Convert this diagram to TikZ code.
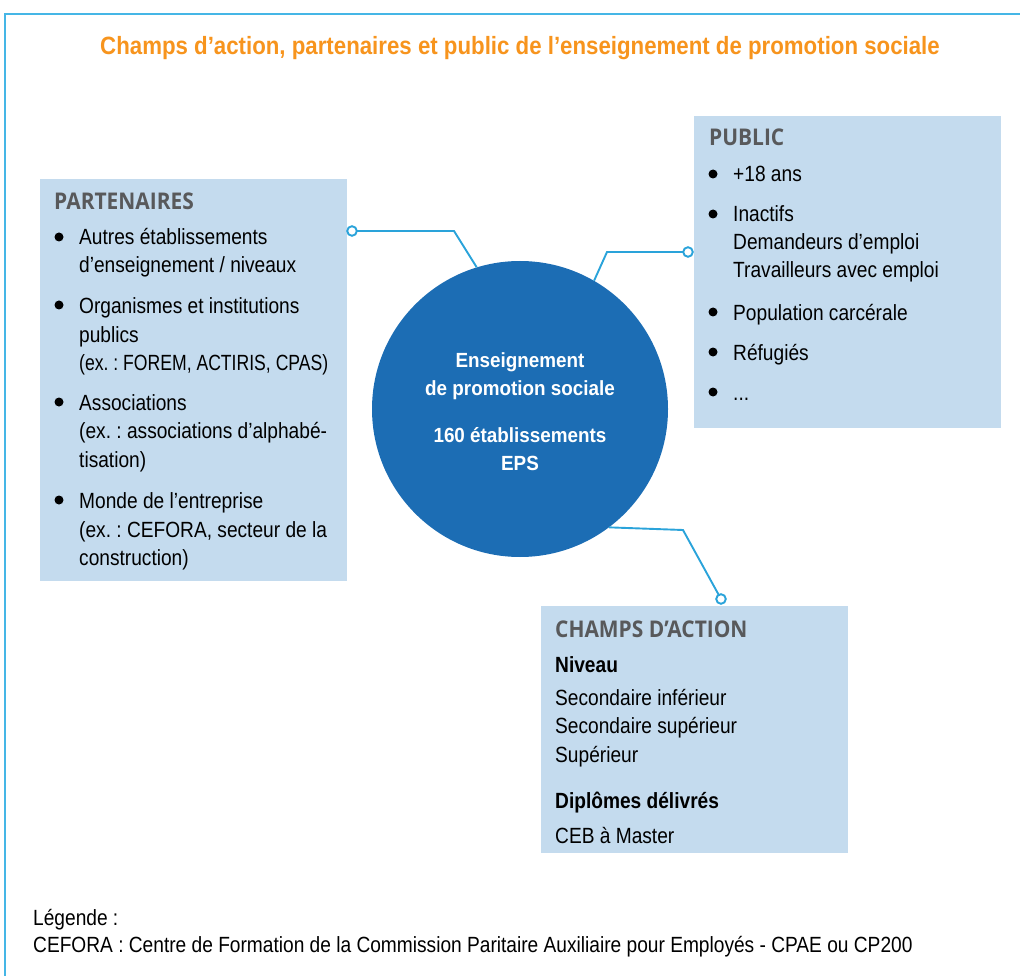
\documentclass[tikz,border=0pt]{standalone}
\usepackage{fontspec}
\setmainfont[FakeStretch=0.87]{Liberation Sans}
\newfontfamily\narrowfont[FakeStretch=0.80]{Liberation Sans}
\newfontfamily\headfont[FakeStretch=0.91]{Open Sans}
\newfontfamily\titlefont[FakeStretch=0.89]{Liberation Sans}
\newfontfamily\epsfont[FakeStretch=0.92]{Liberation Sans}
\usetikzlibrary{positioning}

\definecolor{framecol}{HTML}{45B6E6}
\definecolor{titlecol}{HTML}{F7941D}
\definecolor{boxcol}{HTML}{C4DBEE}
\definecolor{headcol}{HTML}{58595B}
\definecolor{epscol}{HTML}{1C6DB4}
\definecolor{linkcol}{HTML}{2AA3DA}

\frenchspacing
\begin{document}
\begin{tikzpicture}[x=1pt,y=-1pt,
  box/.style={fill=boxcol, draw=none, anchor=north west, inner sep=0pt},
  head/.style={anchor=base west, inner sep=0pt, text=headcol, font=\headfont\bfseries\fontsize{23}{28}\selectfont},
  txt/.style={anchor=base west, inner sep=0pt, font=\fontsize{22}{26}\selectfont},
  bul/.style={circle, fill=black, inner sep=0pt, minimum size=9pt},
  ctr/.style={anchor=base, inner sep=0pt, text=white, font=\epsfont\bfseries\fontsize{20.5}{24}\selectfont},
  link/.style={draw=linkcol, line width=1.9pt},
  dot/.style={draw=linkcol, fill=white, line width=1.9pt}]
\useasboundingbox (0,0) rectangle (1020,976);
\draw[framecol, line width=1.5pt] (5,976) -- (5,14) -- (1020,14);
\node[anchor=base, inner sep=0pt, text=titlecol, font=\titlefont\bfseries\fontsize{25}{30}\selectfont] (title) at (520,55)
  {Champs d’action, partenaires et public de l’enseignement de promotion sociale};

% boxes
\node[box, minimum width=307pt, minimum height=402pt] (part) at (40,179) {};
\node[box, minimum width=307pt, minimum height=312pt] (pub) at (694,116) {};
\node[box, minimum width=307pt, minimum height=247pt] (champ) at (541,606) {};
\node[circle, fill=epscol, minimum size=296pt, inner sep=0pt] (eps) at (520,409) {};

% partenaires
\node[head] (parth) at (54,210) {PARTENAIRES};
\node[bul] (pb1) at (59,237) {};
\node[txt] (pt1) at (79,245) {Autres établissements};
\node[txt] (pt2) at (79,273) {d’enseignement / niveaux};
\node[bul] (pb2) at (59,305) {};
\node[txt] (pt3) at (79,313) {Organismes et institutions};
\node[txt] (pt4) at (79,342) {publics};
\node[txt, font=\narrowfont\fontsize{22}{26}\selectfont] (pt5) at (79,370) {(ex. : FOREM, ACTIRIS, CPAS)};
\node[bul] (pb3) at (59,402) {};
\node[txt] (pt6) at (79,410) {Associations};
\node[txt] (pt7) at (79,438) {(ex. : associations d’alphabé-};
\node[txt] (pt8) at (79,467) {tisation)};
\node[bul] (pb4) at (59,500) {};
\node[txt] (pt9) at (79,508) {Monde de l’entreprise};
\node[txt] (pt10) at (79,537) {(ex. : CEFORA, secteur de la};
\node[txt] (pt11) at (79,565) {construction)};

% public
\node[head] (pubh) at (709,146) {PUBLIC};
\node[bul] (ub1) at (713,174) {};
\node[txt] (ut1) at (733,182) {+18 ans};
\node[bul] (ub2) at (713,214) {};
\node[txt] (ut2) at (733,222) {Inactifs};
\node[txt] (ut3) at (733,250) {Demandeurs d’emploi};
\node[txt] (ut4) at (733,278) {Travailleurs avec emploi};
\node[bul] (ub3) at (713,312) {};
\node[txt] (ut5) at (733,320) {Population carcérale};
\node[bul] (ub4) at (713,352) {};
\node[txt] (ut6) at (733,360) {Réfugiés};
\node[bul] (ub5) at (713,392) {};
\node[txt] (ut7) at (733,400) {...};

% champs d'action
\node[head] (champh) at (555,637) {CHAMPS D’ACTION};
\node[txt, font=\bfseries\fontsize{22}{26}\selectfont] (ct1) at (555,672) {Niveau};
\node[txt] (ct2) at (555,705) {Secondaire inférieur};
\node[txt] (ct3) at (555,733) {Secondaire supérieur};
\node[txt] (ct4) at (555,762) {Supérieur};
\node[txt, font=\bfseries\fontsize{22}{26}\selectfont] (ct5) at (555,808) {Diplômes délivrés};
\node[txt] (ct6) at (555,843) {CEB à Master};

% centre
\node[ctr] (e1) at (520,367) {Enseignement};
\node[ctr] (e2) at (520,395) {de promotion sociale};
\node[ctr] (e3) at (520,442) {160 établissements};
\node[ctr] (e4) at (520,470) {EPS};

% connectors
\coordinate (pend) at (352,231);
\coordinate (uend) at (688,252);
\coordinate (cend) at (721,599);
\draw[link] (eps.107) -- (454,231) -- (pend);
\draw[link] (eps.60) -- (607,252) -- (uend);
\draw[link] (eps.-53) -- (683,530) -- (cend);
\draw[dot] (pend) circle (4.8);
\draw[dot] (uend) circle (4.8);
\draw[dot] (cend) circle (4.8);

% legende
\node[txt] (leg1) at (33,925) {Légende :};
\node[txt] (leg2) at (33,952) {CEFORA : Centre de Formation de la Commission Paritaire Auxiliaire pour Employés - CPAE ou CP200};
\end{tikzpicture}
\end{document}
